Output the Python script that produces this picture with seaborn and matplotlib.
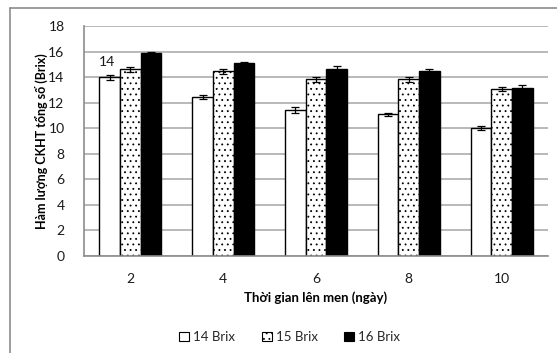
import matplotlib
matplotlib.use("Agg")
import matplotlib.pyplot as plt
from matplotlib.lines import Line2D
from matplotlib.patches import Patch
from matplotlib.container import BarContainer
import seaborn as sns
import pandas as pd
import numpy as np

# Fermentation time (days) and total soluble solids for each initial Brix level
days = ["2", "4", "6", "8", "10"]
series = ["14 Brix", "15 Brix", "16 Brix"]
brix14 = [14.0, 12.45, 11.42, 11.08, 10.04]
brix15 = [14.63, 14.45, 13.83, 13.83, 13.04]
brix16 = [15.86, 15.1, 14.66, 14.45, 13.17]
err14 = [0.2, 0.18, 0.22, 0.1, 0.16]
err15 = [0.2, 0.18, 0.2, 0.2, 0.16]
err16 = [0.1, 0.05, 0.19, 0.18, 0.22]

values = [brix14, brix15, brix16]
errors = [err14, err15, err16]

df = pd.DataFrame({
    "day": days * 3,
    "series": [s for s in series for _ in days],
    "value": brix14 + brix15 + brix16,
})

sns.set_theme(style="white")
plt.rcParams["font.family"] = ["Lato", "DejaVu Sans"]
plt.rcParams["hatch.linewidth"] = 0.6

fig = plt.figure(figsize=(5.57, 3.53), dpi=100)
ax = fig.add_axes([84 / 557, 1 - 256 / 353, (548 - 84) / 557, (256 - 26) / 353])

fills = {"14 Brix": "white", "15 Brix": "white", "16 Brix": "black"}
sns.barplot(data=df, x="day", y="value", hue="series", order=days,
            hue_order=series, palette=fills, width=0.667, ax=ax,
            edgecolor="black", linewidth=1.0, saturation=1, legend=False,
            errorbar=None)

bar_groups = [c for c in ax.containers if isinstance(c, BarContainer)]

# style bars per series and add error bars
for s_idx, cont in enumerate(bar_groups):
    for b_idx, bar in enumerate(cont.patches):
        if s_idx == 1:
            bar.set_hatch("...")
        cx = bar.get_x() + bar.get_width() / 2
        ax.errorbar(cx, values[s_idx][b_idx], yerr=errors[s_idx][b_idx],
                    fmt="none", ecolor="black", elinewidth=0.9,
                    capsize=3.2, capthick=0.9, zorder=5)

# value label on the first bar
first = bar_groups[0].patches[0]
ax.annotate(f"{brix14[0]:g}",
            xy=(first.get_x() + first.get_width() / 2, brix14[0]),
            xytext=(-2, 11), textcoords="offset points",
            ha="center", va="center", fontsize=10, color="#1a1a1a")

ax.set_ylim(0, 18)
ax.set_yticks(np.arange(0, 19, 2))
ax.set_xlim(-0.5, 4.5)
ax.yaxis.grid(True, color="#b3b3b3", linewidth=1.3)
ax.set_axisbelow(True)
for side in ["top", "right"]:
    ax.spines[side].set_visible(False)
for side in ["left", "bottom"]:
    ax.spines[side].set_color("#8c8c8c")
    ax.spines[side].set_linewidth(1.2)
ax.tick_params(axis="both", length=0, labelsize=10, colors="#1a1a1a")
ax.tick_params(axis="y", pad=14)
ax.tick_params(axis="x", pad=12)

ax.set_xlabel("Thời gian lên men (ngày)", fontsize=9.5, fontweight="bold",
              color="black", labelpad=5)
ax.set_ylabel("Hàm lượng CKHT tổng số (Brix)", fontsize=9, fontweight="bold",
              color="black", labelpad=0)

handles = [Patch(facecolor="white", edgecolor="black", linewidth=0.8),
           Patch(facecolor="white", edgecolor="black", linewidth=0.8, hatch="..."),
           Patch(facecolor="black", edgecolor="black", linewidth=0.8)]
fig.legend(handles, series, loc="center", bbox_to_anchor=(0.52, 0.045),
           ncol=3, frameon=False, fontsize=9.5, handlelength=0.75,
           handleheight=0.75, handletextpad=0.3, columnspacing=2.0)

# chart area border
fig.add_artist(Line2D([10 / 557, 10 / 557], [0, 1 - 8 / 353],
                      transform=fig.transFigure, color="#8c8c8c", linewidth=1.2))
fig.add_artist(Line2D([10 / 557, 1], [1 - 8 / 353, 1 - 8 / 353],
                      transform=fig.transFigure, color="#8c8c8c", linewidth=1.2))

fig.savefig("out.png", dpi=100)
